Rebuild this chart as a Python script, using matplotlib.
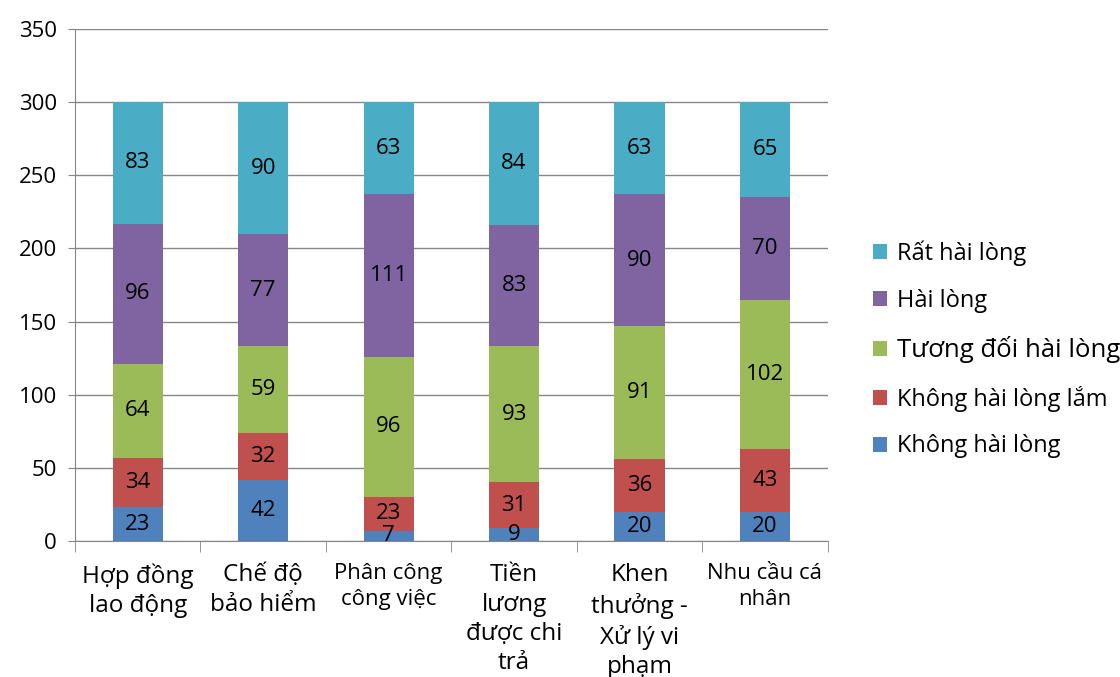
import numpy as np
import matplotlib
matplotlib.use("Agg")
import matplotlib.pyplot as plt

plt.rcParams['font.family'] = ['Open Sans', 'DejaVu Sans']

categories = ["Hợp đồng\nlao động", "Chế độ\nbảo hiểm", "Phân công\ncông việc",
              "Tiền\nlương\nđược chi\ntrả", "Khen\nthưởng -\nXử lý vi\nphạm", "Nhu cầu cá\nnhân"]
cat_sizes = [17.5, 17.5, 16, 17.5, 17.5, 16]

series_names = ["Không hài lòng", "Không hài lòng lắm", "Tương đối hài lòng", "Hài lòng", "Rất hài lòng"]
khong_hai_long = [23, 42, 7, 9, 20, 20]
khong_hai_long_lam = [34, 32, 23, 31, 36, 43]
tuong_doi = [64, 59, 96, 93, 91, 102]
hai_long = [96, 77, 111, 83, 90, 70]
rat_hai_long = [83, 90, 63, 84, 63, 65]
colors = ["#4F81BD", "#C0504D", "#9BBB59", "#8064A2", "#4BACC6"]

values = [khong_hai_long, khong_hai_long_lam, tuong_doi, hai_long, rat_hai_long]

fig = plt.figure(figsize=(11.2, 6.77), dpi=100)
ax = fig.add_axes([0.067, 0.201, 0.672, 0.756])

x = np.arange(len(categories))
bottom = np.zeros(len(categories))
handles = []
for name, vals, col in zip(series_names, values, colors):
    vals = np.array(vals, dtype=float)
    b = ax.bar(x, vals, 0.4, bottom=bottom, color=col, label=name, zorder=3)
    handles.append(b)
    for xi, v, bt in zip(x, vals, bottom):
        ax.text(xi, bt + v / 2, f"{int(v)}", ha="center", va="center",
                fontsize=16, color="black", zorder=4)
    bottom += vals

ax.set_xlim(-0.5, len(categories) - 0.5)
ax.set_ylim(0, 350)
ax.set_yticks(np.arange(0, 351, 50))
ax.yaxis.grid(True, color="#868686", linewidth=1, zorder=0)
ax.tick_params(axis="y", labelsize=16, length=5, color="#868686", pad=8)

ax.set_xticks(x)
ax.set_xticklabels(categories, linespacing=1.3)
for lbl, s in zip(ax.get_xticklabels(), cat_sizes):
    lbl.set_fontsize(s)
ax.tick_params(axis="x", which="major", length=0, pad=16)
ax.set_xticks(np.arange(-0.5, len(categories), 1.0), minor=True)
ax.tick_params(axis="x", which="minor", length=8, color="#868686")

for s in ["top", "right"]:
    ax.spines[s].set_visible(False)
ax.spines["left"].set_color("#868686")
ax.spines["bottom"].set_color("#868686")

leg = fig.legend(handles[::-1], series_names[::-1], loc="upper left",
                 bbox_to_anchor=(0.771, 0.659), frameon=False, fontsize=17,
                 handlelength=0.6, handleheight=0.6, handletextpad=0.4,
                 labelspacing=0.97, borderaxespad=0)
for t in leg.get_texts():
    if t.get_text() == "Tương đối hài lòng":
        t.set_fontsize(18.5)

fig.savefig("out.png", dpi=100)
